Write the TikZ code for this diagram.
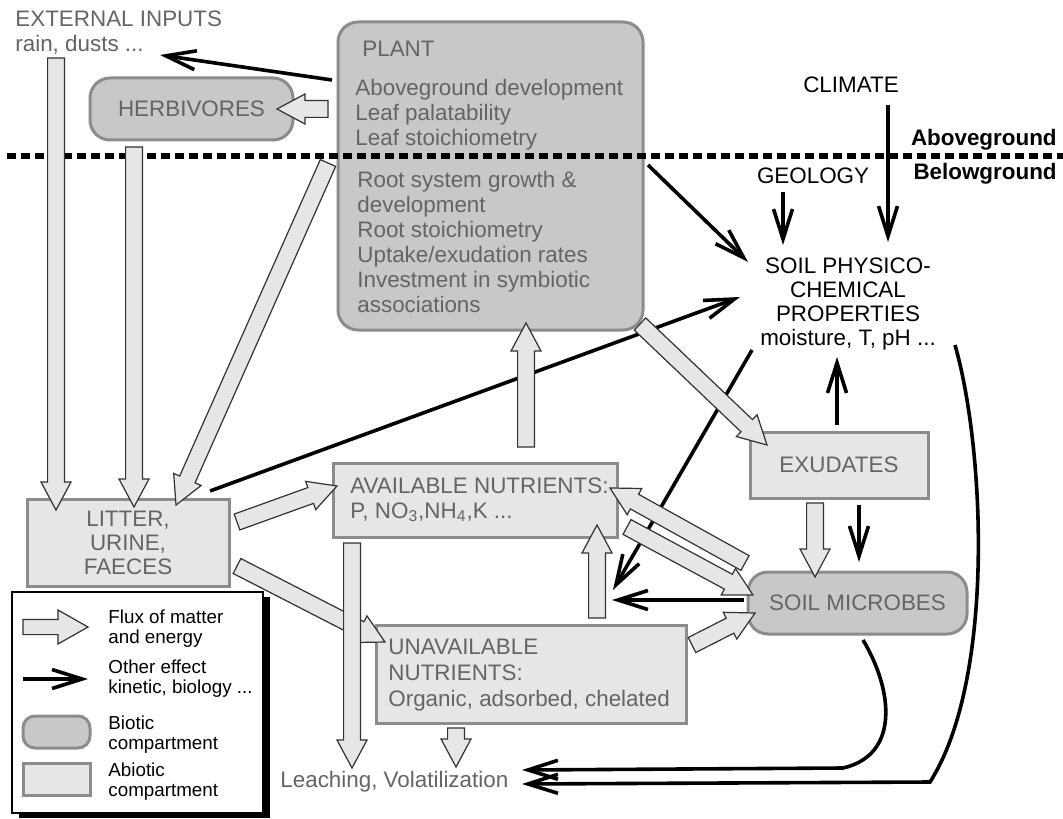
\documentclass[tikz,border=0pt]{standalone}
\usepackage{fontspec}
\setmainfont{Liberation Sans}
\usetikzlibrary{arrows.meta}
\usetikzlibrary{calc}
\usetikzlibrary{shadows}

\definecolor{textgray}{RGB}{100,100,100}
\definecolor{bioticfill}{RGB}{200,200,200}
\definecolor{abioticfill}{RGB}{230,230,230}
\definecolor{boxdraw}{RGB}{140,140,140}
\definecolor{fluxdraw}{RGB}{50,50,50}

\newcommand{\fluxshaft}{4.2pt}
\newcommand{\fluxhead}{7.5pt}
\newcommand{\fluxtip}{14pt}
\newcommand{\flux}[3][]{%
  \coordinate (fs) at #2;
  \coordinate (fe) at #3;
  \coordinate (fh) at ($(fe)!\fluxtip!(fs)$);
  \draw[flux_style,#1] ($(fs)!\fluxshaft!90:(fe)$) -- ($(fh)!\fluxshaft!90:(fe)$)
    -- ($(fh)!\fluxhead!90:(fe)$) -- (fe) -- ($(fh)!\fluxhead!-90:(fe)$)
    -- ($(fh)!\fluxshaft!-90:(fe)$) -- ($(fs)!\fluxshaft!-90:(fe)$) -- cycle;
}

\begin{document}
\begin{tikzpicture}[x=0.5pt, y=-0.5pt,
        font={\fontsize{11.2}{12.5}\selectfont},
        biotic_style/.style={rounded corners=10pt, draw=boxdraw, fill=bioticfill, line width=1.5pt, text=textgray},
        abiotic_style/.style={draw=boxdraw, fill=abioticfill, line width=1.5pt, text=textgray},
        gray_text/.style={text=textgray, inner sep=0pt, align=left, anchor=north west},
        black_text/.style={text=black, inner sep=0pt, align=center},
        legend_text/.style={inner sep=0pt, align=left, anchor=north west, font={\fontsize{9.4}{10}\selectfont}},
        flux_style/.style={draw=fluxdraw, fill=abioticfill, line width=0.6pt, line join=miter},
        effect_style/.style={draw=black, line width=1.8pt, -{Straight Barb[length=15pt, width=9.5pt]}}]

        \useasboundingbox (0,0) rectangle (1063,818);

        \node [biotic_style, minimum width=152.5pt, minimum height=154pt](plant) at (490.5,176) {};

        \node [gray_text](plant_title) at (362,41) {PLANT};

        \node [gray_text](plant_above) at (355,79) {Aboveground development\\Leaf palatability\\Leaf stoichiometry};

        \node [gray_text](plant_below) at (357,171) {Root system growth \&\\development\\Root stoichiometry\\Uptake/exudation rates\\Investment in symbiotic\\associations};

        \node [biotic_style, minimum width=101.5pt, minimum height=31pt](herb) at (191.5,109) {HERBIVORES};

        \node [gray_text](ext) at (15,10) {EXTERNAL INPUTS\\rain, dusts ...};

        \node [abiotic_style, minimum width=101pt, minimum height=43.5pt, align=center,
            font={\fontsize{11.2}{12}\selectfont}](litter) at (128,543) {LITTER,\\URINE,\\FAECES};

        \node [abiotic_style, minimum width=142pt, minimum height=37pt](avail) at (475,500) {};

        \node [gray_text](avail_text) at (350,477) {AVAILABLE NUTRIENTS:\\P, NO\textsubscript{3},NH\textsubscript{4},K ...};

        \node [abiotic_style, minimum width=155pt, minimum height=49pt](unavail) at (531,674) {};

        \node [gray_text, font={\fontsize{11.2}{13}\selectfont}](unavail_text) at (388,639) {UNAVAILABLE\\NUTRIENTS:\\Organic, adsorbed, chelated};

        \node [abiotic_style, minimum width=89pt, minimum height=33pt](exud) at (839,465) {EXUDATES};

        \node [biotic_style, minimum width=109.5pt, minimum height=31pt](microbes) at (857.5,603) {SOIL MICROBES};

        \node [black_text](climate) at (851,85) {CLIMATE};

        \node [black_text](geology) at (813,176) {GEOLOGY};

        \node [black_text, anchor=north, font={\fontsize{11.2}{12}\selectfont}](soil) at (848,257) {SOIL PHYSICO-\\CHEMICAL\\PROPERTIES\\moisture, T, pH ...};

        \node [inner sep=0pt, anchor=base east, font={\fontsize{11.2}{12.5}\selectfont\bfseries}](above) at (1057,146) {Aboveground};

        \node [inner sep=0pt, anchor=base east, font={\fontsize{11.2}{12.5}\selectfont\bfseries}](below) at (1057,180) {Belowground};

        \node [text=textgray, inner sep=0pt, anchor=base west](leach) at (280,787) {Leaching, Volatilization};

        \draw [line width=3pt, dash pattern=on 4.5pt off 2.5pt] (7,156) -- (1063,156);

        \coordinate (a1) at (332,80);    \coordinate (a2) at (160,55);
        \coordinate (b1) at (888,105);   \coordinate (b2) at (888,242);
        \coordinate (c1) at (783,192);   \coordinate (c2) at (783,245);
        \coordinate (d1) at (648,165);   \coordinate (d2) at (748,262);
        \coordinate (e1) at (210,491);   \coordinate (e2) at (740,297);
        \coordinate (f1) at (752,350);   \coordinate (f2) at (613,590);
        \coordinate (g1) at (837,425);   \coordinate (g2) at (837,357);
        \coordinate (h1) at (859,505);   \coordinate (h2) at (859,562);
        \coordinate (i1) at (744,600);   \coordinate (i2) at (612,600);
        \coordinate (j1) at (863,640);   \coordinate (j2) at (522,770);
        \coordinate (k1) at (955,345);   \coordinate (k2) at (522,784);

        \draw [effect_style] (a1) -- (a2);

        \draw [effect_style] (b1) -- (b2);

        \draw [effect_style] (c1) -- (c2);

        \draw [effect_style] (d1) -- (d2);

        \draw [effect_style] (e1) -- (e2);

        \draw [effect_style] (f1) -- (f2);

        \draw [effect_style] (g1) -- (g2);

        \draw [effect_style] (h1) -- (h2);

        \draw [effect_style] (i1) -- (i2);

        \draw [effect_style] (j1) .. controls (893,690) and (900,755) .. (843,768) -- (j2);

        \draw [effect_style] (k1) .. controls (985,450) and (995,680) .. (930,782) -- (k2);

        \coordinate (ext_out) at (56,58);        \coordinate (litter_in1) at (56,510);
        \coordinate (herb_out) at (134,147);     \coordinate (litter_in2) at (134,507);
        \coordinate (plant_out1) at (328,163);   \coordinate (litter_in3) at (176,505);
        \coordinate (plant_out2) at (328,109);   \coordinate (herb_in) at (277,109);
        \coordinate (litter_out1) at (237,522);  \coordinate (avail_in1) at (337,486);
        \coordinate (litter_out2) at (237,566);  \coordinate (unavail_in1) at (385,642);
        \coordinate (avail_out1) at (352,543);   \coordinate (leach_in1) at (352,768);
        \coordinate (unavail_out1) at (456,728); \coordinate (leach_in2) at (456,767);
        \coordinate (unavail_out2) at (597,618); \coordinate (avail_in2) at (597,525);
        \coordinate (avail_out2) at (526,447);   \coordinate (plant_in) at (526,323);
        \coordinate (plant_out3) at (640,324);   \coordinate (exud_in) at (767,445);
        \coordinate (microbes_out) at (745,563); \coordinate (avail_in3) at (610,488);
        \coordinate (avail_out3) at (627,527);   \coordinate (microbes_in1) at (753,595);
        \coordinate (unavail_out3) at (692,645); \coordinate (microbes_in2) at (755,613);
        \coordinate (exud_out) at (815,503);     \coordinate (microbes_in3) at (815,577);

        \flux{(ext_out)}{(litter_in1)}

        \flux{(herb_out)}{(litter_in2)}

        \flux{(plant_out1)}{(litter_in3)}

        \flux{(plant_out2)}{(herb_in)}

        \flux{(litter_out1)}{(avail_in1)}

        \flux{(litter_out2)}{(unavail_in1)}

        \flux{(avail_out1)}{(leach_in1)}

        \flux{(unavail_out1)}{(leach_in2)}

        \flux{(unavail_out2)}{(avail_in2)}

        \flux{(avail_out2)}{(plant_in)}

        \flux{(plant_out3)}{(exud_in)}

        \flux{(microbes_out)}{(avail_in3)}

        \flux{(avail_out3)}{(microbes_in1)}

        \flux{(unavail_out3)}{(microbes_in2)}

        \flux{(exud_out)}{(microbes_in3)}

        \node [draw=black, fill=white, line width=1pt, minimum width=125.5pt, minimum height=110.5pt,
            drop shadow={fill=black, opacity=1, shadow xshift=3.5pt, shadow yshift=-2.5pt}](legend) at (137.5,702.5) {};

        \coordinate (key_flux1) at (23,627);   \coordinate (key_flux2) at (88,627);
        \coordinate (key_effect1) at (23,679); \coordinate (key_effect2) at (88,679);

        {\renewcommand{\fluxshaft}{3.8pt}\renewcommand{\fluxhead}{8.5pt}\renewcommand{\fluxtip}{15pt}
        \flux{(key_flux1)}{(key_flux2)}}

        \draw [effect_style] (key_effect1) -- (key_effect2);

        \node [biotic_style, rounded corners=6pt, minimum width=33.5pt, minimum height=16pt](key_biotic) at (56.5,732) {};

        \node [abiotic_style, minimum width=33.5pt, minimum height=16pt](key_abiotic) at (56.5,779) {};

        \node [legend_text](key_flux_text) at (108,609) {Flux of matter\\and energy};

        \node [legend_text](key_effect_text) at (108,659) {Other effect\\kinetic, biology ...};

        \node [legend_text](key_biotic_text) at (108,715) {Biotic\\compartment};

        \node [legend_text](key_abiotic_text) at (108,762) {Abiotic\\compartment};

        \end{tikzpicture}
\end{document}
